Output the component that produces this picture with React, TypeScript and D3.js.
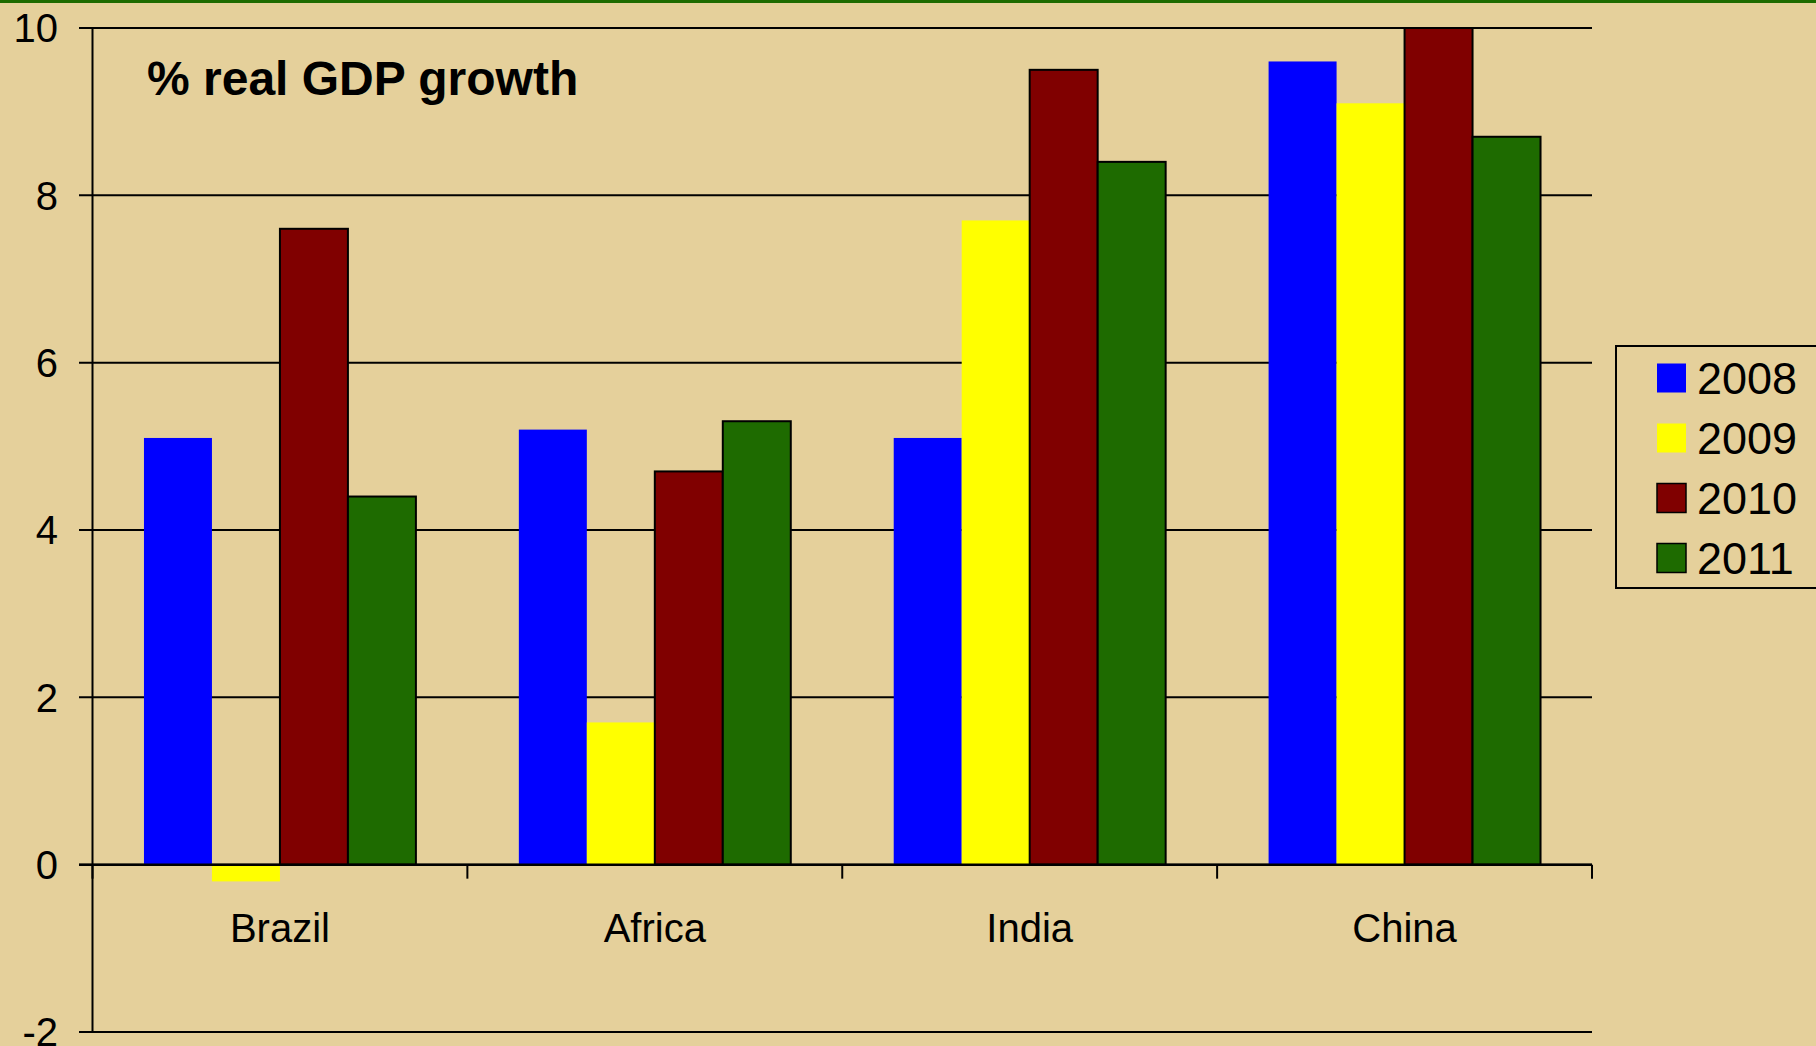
import React from "react";
import * as d3 from "d3";

const categories = ["Brazil", "Africa", "India", "China"];
const seriesNames = ["2008", "2009", "2010", "2011"];
const seriesColors = ["#0000FF", "#FFFF00", "#800000", "#1E6B00"];
const seriesOutlined = [false, false, true, true];
const values2008 = [5.1, 5.2, 5.1, 9.6];
const values2009 = [-0.2, 1.7, 7.7, 9.1];
const values2010 = [7.6, 4.7, 9.5, 10.0];
const values2011 = [4.4, 5.3, 8.4, 8.7];
const seriesValues = [values2008, values2009, values2010, values2011];
const yTicks = [-2, 0, 2, 4, 6, 8, 10];
const title = "% real GDP growth";

const W = 1816;
const H = 1046;
const BG = "#E5D09B";
const FONT = "'Liberation Sans', Arial, sans-serif";

export default function App() {
  const left = 92.5;
  const right = 1592;
  const y = d3.scaleLinear().domain([-2, 10]).range([1032, 28]);
  const x = d3.scaleBand<string>().domain(categories).range([left, right]).padding(0);
  const bw = x.bandwidth();
  const inner = d3
    .scaleBand<string>()
    .domain(seriesNames)
    .range([bw * 0.1373, bw * 0.8627])
    .padding(0);

  const y0 = y(0);

  return (
    <svg
      width={W}
      height={H}
      style={{ position: "absolute", left: 0, top: 0, display: "block" }}
    >
      <rect x={0} y={0} width={W} height={H} fill={BG} />
      <rect x={0} y={0} width={W} height={3} fill="#1E6B00" />

      {/* gridlines */}
      {yTicks.map((t) => (
        <line
          key={"g" + t}
          x1={79}
          x2={right}
          y1={y(t)}
          y2={y(t)}
          stroke="#000"
          strokeWidth={2}
        />
      ))}

      {/* bars */}
      {categories.map((c, ci) =>
        seriesNames.map((s, si) => {
          const v = seriesValues[si][ci];
          const bx = (x(c) as number) + (inner(s) as number);
          const top = Math.min(y(v), y0);
          const h = Math.abs(y(v) - y0);
          return (
            <rect
              key={c + s}
              x={bx}
              y={top}
              width={inner.bandwidth()}
              height={h}
              fill={seriesColors[si]}
              stroke={seriesOutlined[si] ? "#000" : "none"}
              strokeWidth={seriesOutlined[si] ? 2 : 0}
            />
          );
        })
      )}

      {/* zero axis line */}
      <line x1={79} x2={right} y1={y0} y2={y0} stroke="#000" strokeWidth={2.5} />
      {/* category ticks */}
      {[...categories.map((c) => x(c) as number), right].map((tx, i) => (
        <line
          key={"t" + i}
          x1={tx}
          x2={tx}
          y1={y0}
          y2={y0 + 14}
          stroke="#000"
          strokeWidth={2}
        />
      ))}
      {/* y axis */}
      <line x1={left} x2={left} y1={y(10)} y2={y(-2)} stroke="#000" strokeWidth={2} />

      {/* y tick labels */}
      {yTicks.map((t) => (
        <text
          key={"l" + t}
          x={58}
          y={y(t)}
          dy="0.36em"
          textAnchor="end"
          fontFamily={FONT}
          fontSize={40}
          fill="#000"
        >
          {t}
        </text>
      ))}

      {/* category labels */}
      {categories.map((c) => (
        <text
          key={"c" + c}
          x={(x(c) as number) + bw / 2}
          y={942}
          textAnchor="middle"
          fontFamily={FONT}
          fontSize={40}
          fill="#000"
        >
          {c}
        </text>
      ))}

      {/* title */}
      <text x={147} y={95} fontFamily={FONT} fontSize={48} fontWeight="bold" fill="#000">
        {title}
      </text>

      {/* legend */}
      <rect x={1616} y={346} width={215} height={242} fill="none" stroke="#000" strokeWidth={2} />
      {seriesNames.map((s, i) => (
        <g key={"lg" + s} transform={`translate(0, ${378 + i * 60})`}>
          <rect
            x={1657}
            y={-14.5}
            width={29}
            height={29}
            fill={seriesColors[i]}
            stroke={seriesOutlined[i] ? "#000" : "none"}
            strokeWidth={seriesOutlined[i] ? 1.5 : 0}
          />
          <text x={1697} y={0} dy="0.36em" fontFamily={FONT} fontSize={45} fill="#000">
            {s}
          </text>
        </g>
      ))}
    </svg>
  );
}
